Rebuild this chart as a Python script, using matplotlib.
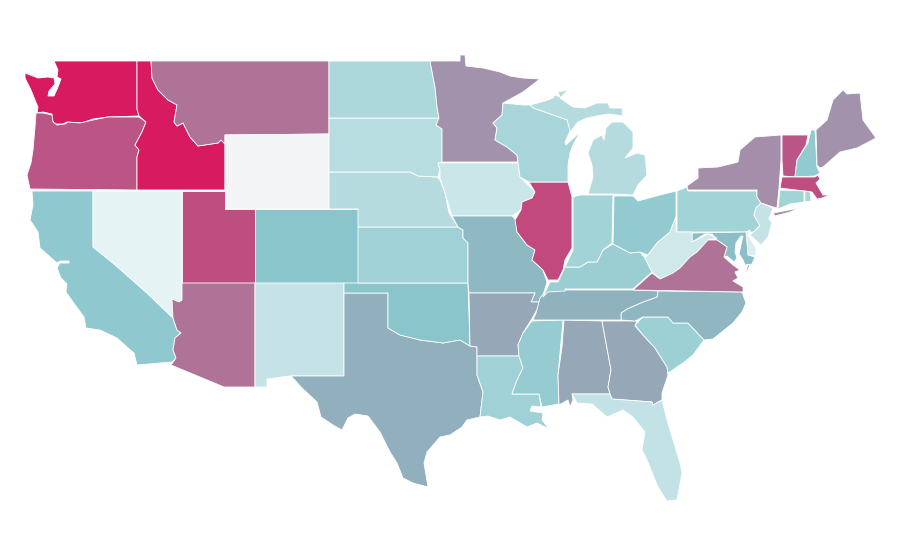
import matplotlib
matplotlib.use('Agg')
import matplotlib.pyplot as plt
from matplotlib.collections import PolyCollection
from matplotlib.colors import LinearSegmentedColormap, Normalize

# state values
state_values = {
    'WA': 100, 'ID': 100, 'OR': 78, 'MT': 70, 'WY': 0, 'NV': 10, 'CA': 38, 'UT': 80, 'CO': 40,
    'AZ': 70, 'NM': 20, 'ND': 28, 'SD': 24, 'NE': 25, 'KS': 32, 'OK': 40, 'TX': 50, 'MN': 60,
    'IA': 18, 'MO': 46, 'AR': 53, 'LA': 32, 'WI': 29, 'IL': 82, 'MI': 25, 'IN': 31, 'OH': 37,
    'KY': 34, 'TN': 49, 'MS': 36, 'AL': 53, 'GA': 53, 'FL': 21, 'SC': 33, 'NC': 47, 'VA': 70,
    'WV': 17, 'PA': 31, 'NY': 61, 'VT': 78, 'NH': 37, 'ME': 60, 'MA': 80, 'CT': 31, 'RI': 29,
    'NJ': 20, 'DE': 14, 'MD': 43,
}

ramp_stops = [0, 10, 20, 30, 40, 50, 60, 70, 80, 100]
ramp_colors = ['#f3f4f6', '#e6f3f4', '#c5e3e6', '#a5d4d8', '#8ac5cc',
               '#91b0bc', '#a392ab', '#ae7497', '#be4e80', '#d81b60']

# outlines in map units
outlines = {
    'WA': [[(54,61),(137,61),(137,109),(139,116),(108,117),(93,119),(82,123),(67,122),(63,124),(55,124),(52,120),
            (52,114),(43,112),(37,113),(38,107),(35,100),(31,90),(25,78),(25,73),(38,78),(48,77),(54,78),(55,84),
            (49,91),(48,96),(54,96),(58,87),(61,79),(57,77),(58,70)]],
    'OR': [[(36,113),(43,113),(52,115),(53,122),(57,125),(65,124),(68,122),(80,123),(93,120),(108,117),(139,117),
            (146,122),(142,132),(135,145),(139,150),(137,157),(137,190),(30,189),(27,175),(31,163),(33,150),(35,127)]],
    'ID': [[(137,61),(151,61),(152,78),(158,90),(168,100),(177,105),(174,122),(177,126),(183,123),(190,137),(198,146),
            (218,143),(221,140),(225,144),(225,190),(137,190),(137,157),(139,150),(135,145),(142,132),(146,122),
            (139,116),(137,109)]],
    'MT': [[(151,61),(329,61),(329,134),(225,135),(225,144),(221,140),(218,143),(198,146),(190,137),(183,123),
            (177,126),(174,122),(177,105),(168,100),(158,90),(152,78)]],
    'WY': [[(225,135),(329,134),(329,209),(225,209)]],
    'CA': [[(32,191),(93,191),(93,247),(113,263),(147,293),(173,318),(177,330),(181,333),(175,338),(173,350),(176,358),
            (172,362),(137,365),(134,353),(127,347),(117,338),(100,330),(86,328),(84,317),(73,302),(66,292),(67,284),
            (61,278),(57,268),(60,263),(69,263),(69,261),(60,261),(57,263),(40,248),(38,232),(30,220),(33,205)]],
    'NV': [[(93,191),(182,191),(182,300),(179,302),(173,300),(173,318),(147,293),(113,263),(93,247)]],
    'UT': [[(182,191),(225,191),(225,209),(255,209),(255,283),(182,283)]],
    'CO': [[(255,209),(358,209),(358,283),(255,283)]],
    'AZ': [[(182,283),(255,283),(255,387),(224,387),(171,365),(176,358),(173,350),(175,338),(181,333),(177,330),
            (173,318),(172,299),(179,302),(182,300)]],
    'NM': [[(255,283),(344,283),(344,376),(290,376),(267,379),(267,387),(255,387)]],
    'TX': [[(344,293),(388,293),(388,328),(400,335),(420,340),(443,343),(460,340),(470,346),(477,347),(477,375),
            (483,392),(480,417),(467,420),(462,427),(450,435),(440,437),(427,452),(424,463),(428,487),(413,483),
            (403,478),(397,463),(390,452),(380,432),(368,416),(355,414),(348,418),(342,430),(333,425),(321,417),
            (317,402),(302,388),(291,376),(344,376)]],
    'OK': [[(344,283),(468,283),(470,346),(460,340),(443,343),(420,340),(400,335),(388,328),(388,293),(344,293)]],
    'KS': [[(358,227),(458,227),(463,230),(463,238),(468,243),(468,283),(358,283)]],
    'NE': [[(329,172),(410,172),(418,176),(437,177),(440,180),(445,193),(449,213),(458,227),(358,227),(358,209),(329,209)]],
    'SD': [[(329,118),(439,118),(436,125),(442,129),(442,162),(438,163),(440,170),(438,177),(418,176),(410,172),(329,172)]],
    'ND': [[(329,61),(430,61),(435,87),(437,107),(439,118),(329,118)]],
    'MN': [[(430,61),(460,61),(460,55),(465,55),(466,66),(483,68),(500,72),(510,76),(523,78),(540,79),(523,92),(503,103),
            (502,115),(493,123),(497,128),(495,140),(507,147),(517,155),(518,162),(442,162),(442,129),(436,125),(439,118),
            (437,107),(435,87)]],
    'IA': [[(438,163),(518,163),(520,177),(535,192),(532,198),(522,202),(521,210),(512,216),(452,216),(445,193),(440,178),(440,170)]],
    'MO': [[(452,216),(512,216),(516,220),(517,232),(527,245),(535,250),(532,260),(543,270),(547,282),(544,292),(540,302),
            (531,302),(535,293),(469,293),(468,283),(468,243),(463,238),(463,230),(458,227)]],
    'AR': [[(469,293),(535,293),(531,302),(541,302),(533,317),(523,333),(518,345),(519,356),(477,356),(477,347),(470,346)]],
    'LA': [[(477,356),(519,356),(523,368),(517,380),(512,394),(539,394),(541,407),(532,406),(530,411),(543,413),(542,420),
            (549,429),(537,423),(527,427),(510,417),(500,420),(488,416),(480,417),(483,392),(477,375)]],
    'MS': [[(532,321),(563,320),(558,375),(559,404),(542,407),(539,394),(512,394),(517,380),(523,368),(519,356),(518,345),(523,333)]],
    'AL': [[(564,320),(602,321),(611,370),(608,387),(610,394),(572,394),(573,400),(570,407),(568,400),(559,405),(558,375),(562,347)]],
    'GA': [[(602,321),(637,321),(635,326),(643,335),(655,348),(667,367),(668,375),(662,393),(662,400),(653,405),(652,402),
            (612,399),(610,394),(608,387),(611,370)]],
    'FL': [[(572,394),(610,394),(612,399),(652,402),(653,405),(662,400),(667,420),(680,463),(682,473),(677,500),(667,501),
            (658,487),(647,460),(642,450),(645,432),(633,417),(623,410),(607,417),(592,404),(577,403)]],
    'SC': [[(635,325),(643,317),(668,317),(673,323),(688,323),(704,340),(693,355),(683,363),(668,373),(667,367),(655,348),(643,335)]],
    'NC': [[(658,291),(742,292),(746,303),(742,312),(733,323),(713,339),(704,340),(688,323),(673,323),(668,317),(643,317),
            (635,321),(621,320),(621,313),(627,309),(643,302),(657,297)]],
    'TN': [[(545,292),(565,290),(603,290),(633,290),(658,291),(657,297),(643,302),(627,309),(621,313),(621,320),(564,320),
            (533,320),(536,313),(540,298)]],
    'KY': [[(645,258),(652,272),(633,289),(565,289),(565,291),(548,292),(543,297),(550,282),(558,282),(565,267),(580,267),
            (588,262),(597,262),(603,250),(613,244),(630,253),(640,252)]],
    'IL': [[(529,182),(568,182),(572,197),(572,248),(565,260),(563,270),(558,280),(548,280),(543,270),(532,260),(535,250),
            (527,245),(517,232),(515,220),(521,210),(522,202),(532,198),(535,192)]],
    'IN': [[(573,197),(580,195),(613,195),(612,243),(603,250),(597,262),(588,262),(580,267),(565,267),(573,250)]],
    'OH': [[(614,196),(633,196),(638,201),(660,195),(676,191),(676,217),(670,232),(657,243),(648,255),(640,252),(630,253),(613,244)]],
    'MI': [[(588,194),(613,194),(633,195),(638,185),(647,175),(645,155),(637,153),(625,158),(633,148),(633,132),(623,122),
            (612,122),(606,128),(604,140),(602,135),(593,140),(588,153),(592,165),(593,177)],
           [(530,105),(545,101),(553,98),(555,95),(560,97),(558,92),(568,90),(560,98),(573,107),(585,108),(597,103),(608,103),
            (610,108),(622,108),(623,116),(610,114),(602,115),(587,118),(578,122),(570,132),(567,120),(550,114),(533,108)]],
    'WI': [[(503,103),(523,105),(530,105),(533,108),(550,114),(567,120),(570,131),(565,142),(566,145),(580,132),(573,145),
            (570,153),(568,165),(568,182),(529,182),(520,177),(517,155),(507,147),(495,140),(497,128),(493,123),(502,115)]],
    'PA': [[(677,191),(687,187),(688,191),(757,191),(757,197),(761,203),(756,208),(754,215),(760,225),(754,232),(677,232)]],
    'NY': [[(687,186),(698,178),(698,168),(718,167),(738,162),(740,150),(755,137),(781,135),(781,160),(779,188),(777,208),
            (773,207),(761,203),(757,197),(757,190),(688,190)],
           [(773,213),(800,208),(790,212),(775,216)]],
    'VT': [[(782,135),(808,135),(806,145),(797,160),(795,177),(783,176),(782,160)]],
    'NH': [[(811,130),(815,130),(817,167),(820,173),(815,176),(795,177),(797,160),(808,143)]],
    'ME': [[(816,130),(827,120),(833,100),(843,90),(847,94),(860,93),(863,120),(876,138),(857,148),(840,152),(823,167),(820,168),(817,165)]],
    'MA': [[(782,177),(815,177),(818,175),(820,179),(816,183),(823,195),(830,195),(822,198),(817,199),(812,192),(780,188)]],
    'CT': [[(780,190),(804,191),(804,202),(790,204),(778,209)]],
    'RI': [[(805,191),(810,192),(811,201),(805,202)]],
    'NJ': [[(761,203),(773,208),(769,219),(772,223),(768,237),(761,245),(750,235),(760,226),(754,215),(756,208)]],
    'DE': [[(746,232),(750,230),(748,235),(756,248),(756,256),(748,255)]],
    'MD': [[(692,233),(746,232),(748,255),(755,257),(752,264),(745,265),(743,260),(739,254),(741,245),(743,236),(741,236),
            (736,243),(735,252),(737,258),(734,262),(727,256),(724,257),(727,247),(717,240),(712,234),(705,234),(692,242)]],
    'WV': [[(676,217),(676,232),(692,232),(692,242),(708,234),(717,238),(708,240),(697,252),(690,257),(680,268),(673,273),
            (660,279),(652,272),(645,258),(648,255),(657,243),(670,232)]],
    'VA': [[(633,290),(652,273),(660,279),(673,273),(680,268),(690,257),(697,252),(708,240),(717,240),(727,247),(724,257),
            (733,265),(740,270),(735,272),(738,278),(733,281),(743,287),(743,292)],
           [(750,265),(743,278),(745,273),(748,265)]],
}

cmap = LinearSegmentedColormap.from_list('ramp', [(s / 100, c) for s, c in zip(ramp_stops, ramp_colors)])

polys = []
vals = []
for st in outlines:
    for ring in outlines[st]:
        polys.append(ring)
        vals.append(state_values[st])

fig = plt.figure(figsize=(9, 5.6), dpi=100)
ax = fig.add_axes([0, 0, 1, 1])
pc = PolyCollection(polys, array=vals, cmap=cmap, norm=Normalize(0, 100), edgecolors='white', linewidths=0.6)
ax.add_collection(pc)
ax.set_xlim(0, 900)
ax.set_ylim(560, 0)
ax.axis('off')

fig.savefig('out.png', dpi=100)
